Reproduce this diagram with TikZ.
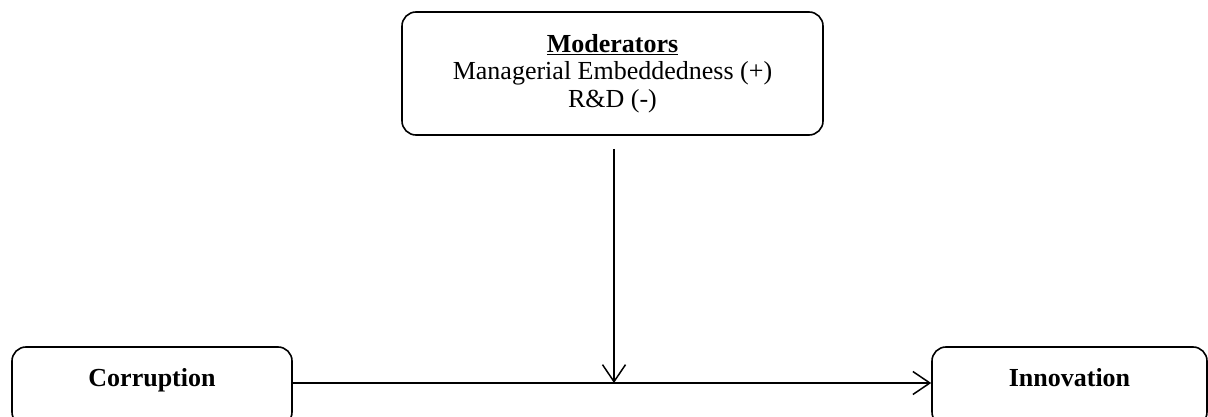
\documentclass[tikz,border=0pt]{standalone}
\usepackage{fontspec}
\setmainfont{Liberation Serif}
\usetikzlibrary{arrows.meta}
\begin{document}
\begin{tikzpicture}[x=1pt,y=-1pt,
  box/.style={draw=black, line width=1.6pt, rounded corners=14pt, inner sep=0pt},
  conn/.style={line width=1.6pt, -{Straight Barb[length=17pt,width=23pt,line width=1.5pt]}},
  font=\fontsize{26}{27.5}\selectfont]
\useasboundingbox (0,0) rectangle (1208,417);
\clip (0,0) rectangle (1208,417);
\node[box, minimum width=421pt, minimum height=123pt, align=center] (mod) at (612.5,73.5)
  {\textbf{\underline{Moderators}}\\Managerial Embeddedness (+)\\R\&D (-)};
\node[box, minimum width=280pt, text height=39.5pt, text depth=39.5pt] (corr) at (152,386.5) {\textbf{Corruption}};
\node[box, minimum width=275pt, text height=39.5pt, text depth=39.5pt] (innov) at (1069.5,386.5) {\textbf{Innovation}};
\coordinate (j) at (614,383);
\draw[conn] (corr.east |- j) -- (innov.west |- j);
\draw[conn] ([shift={(1.5,13)}]mod.south) -- (j);
\end{tikzpicture}
\end{document}
